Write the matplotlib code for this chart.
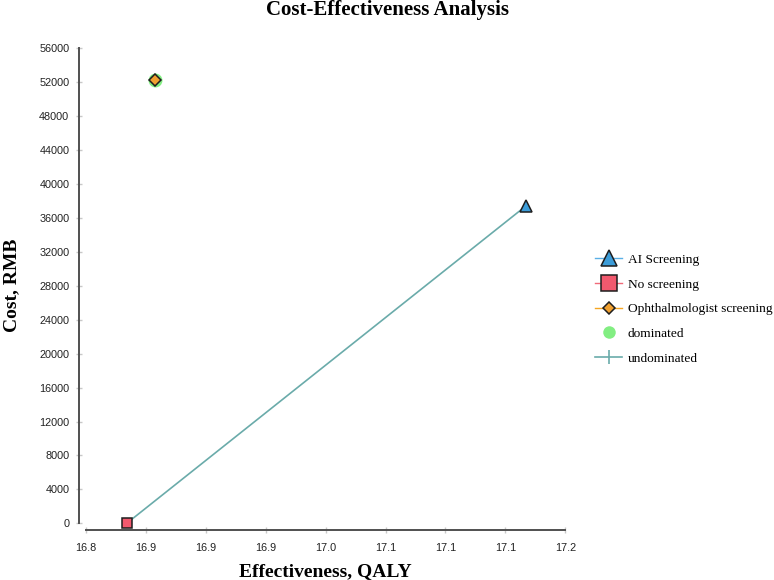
import matplotlib
matplotlib.use("Agg")
import matplotlib.pyplot as plt
from matplotlib.lines import Line2D

# ---- data ----
strategies = ["AI Screening", "No screening", "Ophthalmologist screening"]
effectiveness = [17.167, 16.834, 16.858]
cost = [37400, 0, 52260]
dominated_idx = [2]
frontier_idx = [1, 0]
x_ticks = [16.8, 16.85, 16.9, 16.95, 17.0, 17.05, 17.1, 17.15, 17.2]
x_ticklabels = ["16.8", "16.9", "16.9", "16.9", "17.0", "17.1", "17.1", "17.1", "17.2"]
y_ticks = list(range(0, 56001, 4000))

W, H = 774, 580
fig = plt.figure(figsize=(W / 100, H / 100), dpi=100)
ax = fig.add_axes([86 / W, (H - 523.3) / H, (565.3 - 86) / W, (523.3 - 48.3) / H])

teal = "#6aabaa"
fills = ["#3c9cd8", "#f2596e", "#f0a030"]
lines = ["#5ab0e6", "#f06a7a", "#f5a623"]
markers = ["^", "s", "D"]
msizes = [8, 7.6, 6.0]
edge = "#1e1e1e"

# frontier line
fx = [effectiveness[i] for i in frontier_idx]
fy = [cost[i] for i in frontier_idx]
ax.plot(fx, fy, color=teal, lw=1.2, zorder=2)

# dominated marker(s)
ax.plot([effectiveness[i] for i in dominated_idx], [cost[i] for i in dominated_idx],
        linestyle="none", marker="o", ms=10, mfc="#82ee82", mec="none", zorder=3)

for i, s in enumerate(strategies):
    ax.plot([effectiveness[i]], [cost[i]], linestyle="none", marker=markers[i],
            ms=msizes[i], mfc=fills[i], mec=edge, mew=1.1, zorder=4, clip_on=False)

ax.set_xlim(16.8, 17.2)
ax.set_ylim(0, 56000)
ax.set_xticks(x_ticks)
ax.set_xticklabels(x_ticklabels)
ax.set_yticks(y_ticks)
ax.set_yticklabels([str(v) for v in y_ticks])

for side in ["top", "right"]:
    ax.spines[side].set_visible(False)
for side in ["left", "bottom"]:
    ax.spines[side].set_position(("outward", 5))
    ax.spines[side].set_color("#505050")
    ax.spines[side].set_linewidth(1.4)

ax.tick_params(axis="both", direction="inout", length=5, width=1, color="#c8c8c8",
               labelsize=7.8, labelcolor="#222222")
ax.tick_params(axis="y", pad=4.5)
ax.tick_params(axis="x", pad=6.5)
for lab in ax.get_xticklabels() + ax.get_yticklabels():
    lab.set_family("Liberation Sans")

serif = "Liberation Serif"
fig.text(0.5, 1 - 15 / H, "Cost-Effectiveness Analysis", ha="center", va="baseline",
         family=serif, fontweight="bold", fontsize=15)
fig.text(325.5 / W, 1 - 576.5 / H, "Effectiveness, QALY", ha="center", va="baseline",
         family=serif, fontweight="bold", fontsize=14)
fig.text(16.5 / W, 1 - 285.8 / H, "Cost, RMB", ha="center", va="baseline", rotation=90,
         rotation_mode="anchor", family=serif, fontweight="bold", fontsize=14)

# legend
handles = []
leg_ms = [11.5, 11, 6.0]
for i, s in enumerate(strategies):
    handles.append(Line2D([], [], color=lines[i], lw=1.0, marker=markers[i], ms=leg_ms[i],
                          mfc=fills[i], mec=edge, mew=1.1, label=s))
handles.append(Line2D([], [], linestyle="none", marker="o", ms=9, mfc="#82ee82",
                      mec="none", label="dominated"))
handles.append(Line2D([], [], color=teal, lw=1.2, marker="|", ms=10, mew=1.2,
                      mec=teal, label="undominated"))
fig.legend(handles=handles, loc="upper left", bbox_to_anchor=(595 / W, 1 - 253.5 / H),
           frameon=False, borderpad=0, borderaxespad=0, handlelength=2.05,
           handletextpad=0.42, labelspacing=0.93,
           prop={"family": serif, "size": 9.6})

fig.savefig("out.png", dpi=100)
